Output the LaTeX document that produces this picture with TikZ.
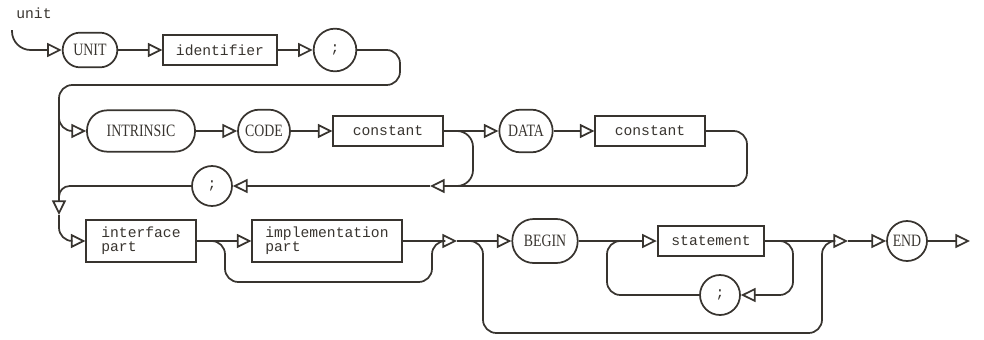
\documentclass[tikz,border=0pt]{standalone}
\usepackage{fontspec}
\setmainfont{Liberation Serif}
\setmonofont{Liberation Mono}
\newfontfamily\kwfont[FakeStretch=0.8]{Liberation Serif}
\usepackage{tikz}
\usetikzlibrary{arrows.meta}
\definecolor{ink}{HTML}{38342F}

\begin{document}
\begin{tikzpicture}[
        x=0.75pt, y=-0.75pt,
        color=ink,
        line/.style={line width=1.3pt, rounded corners=10pt},
        flow/.style={line, -{Triangle[open, length=11pt, width=10.5pt]}},
        key word/.style={rectangle, draw, line width=1.3pt, rounded corners=15pt,
            minimum height=31pt, inner sep=0pt,
            font=\kwfont\fontsize{13}{13}\selectfont},
        name box/.style={rectangle, draw, line width=1.3pt, minimum height=22pt,
            align=left, font=\ttfamily\fontsize{11}{10.5}\selectfont},
        sep/.style={circle, draw, line width=1.3pt, minimum size=30pt,
            inner sep=0pt, font=\ttfamily\fontsize{11}{11}\selectfont},
    ]
    \useasboundingbox (0,0) rectangle (984,339);

    % row 1
    \node[font=\ttfamily\fontsize{11}{11}\selectfont] (title) at (34,13) {unit};
    \coordinate (start) at (12,30);
    \node[key word, minimum height=26pt, minimum width=41pt, rounded corners=13pt] (unit) at (90,50) {UNIT};
    \node[name box, minimum width=85pt] (ident) at (220,50) {identifier};
    \node[sep, minimum size=32pt] (semi1) at (335,50) {;};

    \draw[flow, rounded corners=14pt] (start) |- (unit.west);
    \draw[flow] (unit.east) -- (ident.west);
    \draw[flow] (ident.east) -- (semi1.west);

    % row 2
    \node[key word, minimum width=81pt] (intr) at (141,131) {INTRINSIC};
    \node[key word, minimum width=39pt, minimum height=32pt, rounded corners=16pt] (code) at (264,131) {CODE};
    \node[name box, minimum width=82pt] (const1) at (388,131) {constant};
    \node[key word, minimum width=40pt, minimum height=32pt, rounded corners=16pt] (data) at (526,131) {DATA};
    \node[name box, minimum width=82pt] (const2) at (650,131) {constant};
    \node[sep] (semi2) at (212,186) {;};
    \coordinate (tap) at (59,100);
    \coordinate (back) at (430,186);
    \coordinate (dn) at (59,215);

    \draw[flow] (semi1.east) -- (400,50) -- (400,85) -- (59,85) -- (dn);
    \draw[flow] (tap) |- (intr.west);
    \draw[flow] (intr.east) -- (code.west);
    \draw[flow] (code.east) -- (const1.west);
    \draw[flow] (const1.east) -- (data.west);
    \draw[flow] (data.east) -- (const2.west);
    \draw[flow] (const2.east) -| (747,186) -- (back);
    \draw[line, rounded corners=12pt] (445,131) -| (473,186) -- (450,186);
    \draw[flow] (back) -- (semi2.east);
    \draw[line, rounded corners=8pt] (semi2.west) -| (59,200);

    % row 3
    \node[name box, minimum height=31pt, minimum width=82pt] (iface) at (141,241) {interface\\part};
    \node[name box, minimum height=31pt, minimum width=112pt] (impl) at (327,241) {implementation\\part};
    \node[key word, minimum width=49pt, minimum height=33pt, rounded corners=16pt] (begin) at (545,241) {BEGIN};
    \node[name box, minimum width=80pt] (stmt) at (711,241) {statement};
    \node[sep] (semi3) at (720,295) {;};
    \node[key word, minimum width=30pt, minimum height=30pt] (end) at (907,241) {END};
    \coordinate (opt) at (457,241);
    \coordinate (join) at (848,241);
    \coordinate (out) at (970,241);

    \draw[flow] (dn) |- (iface.west);
    \draw[flow] (iface.east) -- (impl.west);
    \draw[line] (205,241) -| (225,282) -| (432,241) -- (442,241);
    \draw[flow] (impl.east) -- (opt);
    \draw[flow] (opt) -- (begin.west);
    \draw[line] (465,241) -| (483,333) -| (822,241) [rounded corners=8pt] -- (833,241);
    \draw[flow] (begin.east) -- (stmt.west);
    \draw[flow] (stmt.east) -- (join);
    \draw[flow] (772,241) -| (793,295) -- (semi3.east);
    \draw[line] (semi3.west) -| (607,241) -- (625,241);
    \draw[flow] (join) -- (end.west);
    \draw[flow] (end.east) -- (out);
\end{tikzpicture}
\end{document}
